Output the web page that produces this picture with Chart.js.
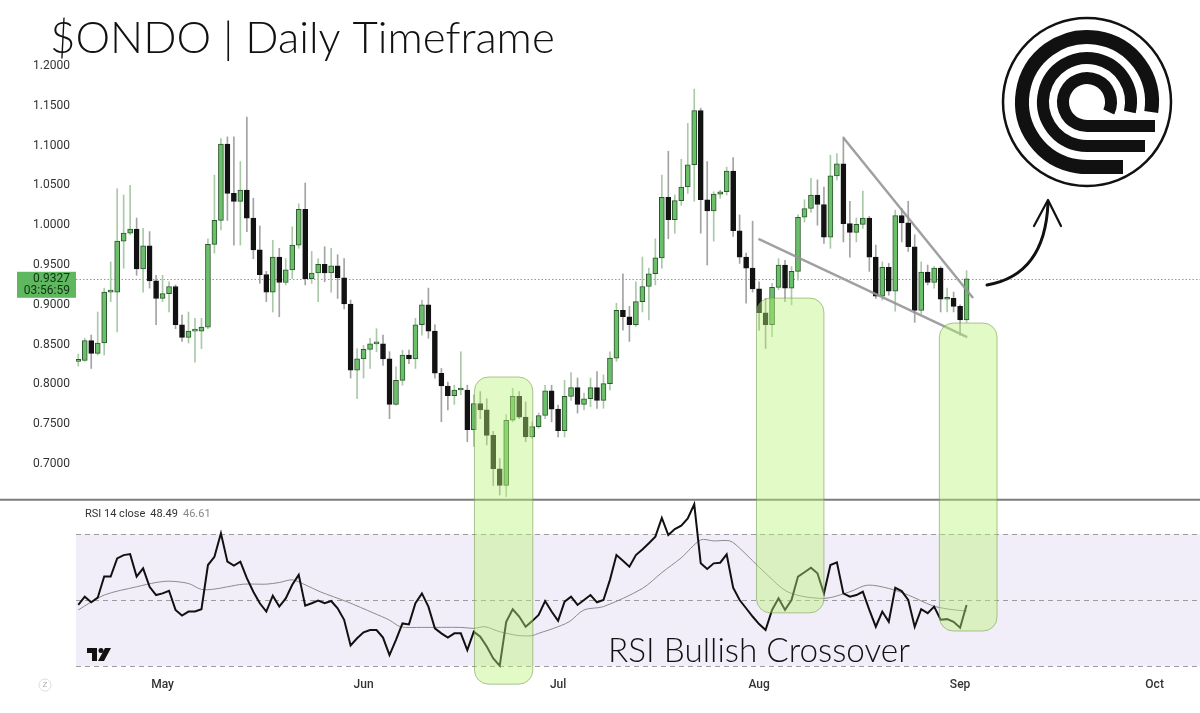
<!DOCTYPE html>
<html>
<head>
<meta charset="utf-8">
<title>$ONDO Daily</title>
<script src="https://cdn.jsdelivr.net/npm/chart.js@4.4.1/dist/chart.umd.min.js"></script>
<style>
  html, body { margin: 0; padding: 0; background: #fff; }
  #wrap { width: 1200px; height: 713px; position: relative; }
</style>
</head>
<body>
<div id="wrap"><canvas id="ondoChart" width="1200" height="713"></canvas></div>
<script>
// daily candles, index 0 = Apr 18, last = Sep 2
const opens = [0.829,0.830,0.855,0.839,0.852,0.916,0.916,0.980,0.990,0.995,
  0.945,0.974,0.930,0.908,0.914,0.923,0.875,0.859,0.867,0.867,
  0.872,0.976,1.006,1.102,1.040,1.030,1.044,1.009,0.969,0.938,
  0.916,0.960,0.928,0.944,0.975,1.020,0.933,0.940,0.951,0.940,
  0.949,0.934,0.901,0.818,0.832,0.844,0.851,0.851,0.832,0.775,
  0.805,0.837,0.832,0.875,0.900,0.867,0.814,0.798,0.786,0.793,
  0.793,0.743,0.776,0.768,0.736,0.694,0.673,0.755,0.785,0.759,
  0.734,0.747,0.761,0.792,0.769,0.742,0.785,0.796,0.775,0.782,
  0.796,0.780,0.801,0.833,0.893,0.885,0.875,0.904,0.923,0.939,
  0.959,1.035,1.007,1.031,1.048,1.076,1.144,1.032,1.018,1.039,
  1.042,1.068,0.993,0.960,0.946,0.920,0.890,0.875,0.922,0.950,
  0.921,0.942,1.010,1.021,1.038,1.026,0.985,1.062,1.077,1.002,
  0.991,1.001,1.009,0.960,0.911,0.947,0.917,1.012,1.003,0.973,
  0.893,0.941,0.928,0.946,0.907,0.908,0.898,0.881];
const highs = [0.838,0.858,0.862,0.891,0.921,0.954,1.046,1.038,1.050,1.009,
  0.996,0.992,0.937,0.937,0.929,0.925,0.887,0.891,0.883,0.883,
  0.983,1.063,1.109,1.111,1.111,1.080,1.136,1.034,0.999,0.942,
  0.981,0.971,0.958,0.998,1.027,1.053,0.967,0.958,0.973,0.971,
  0.963,0.958,0.906,0.845,0.849,0.858,0.870,0.862,0.841,0.822,
  0.843,0.843,0.883,0.906,0.921,0.875,0.820,0.803,0.799,0.841,
  0.799,0.787,0.791,0.782,0.741,0.707,0.762,0.795,0.791,0.778,
  0.753,0.764,0.799,0.799,0.774,0.805,0.815,0.808,0.789,0.808,
  0.816,0.812,0.841,0.902,0.939,0.898,0.929,0.960,0.946,0.983,
  1.063,1.093,1.038,1.083,1.128,1.171,1.147,1.080,1.042,1.044,
  1.073,1.085,1.013,0.965,1.005,0.929,0.908,0.927,0.958,0.956,
  0.948,1.013,1.032,1.059,1.057,1.048,1.088,1.090,1.111,1.030,
  1.009,1.043,1.011,0.975,0.954,0.952,1.019,1.021,1.030,0.988,
  0.954,0.950,0.948,0.948,0.921,0.916,0.900,0.943];
const lows = [0.823,0.829,0.820,0.837,0.837,0.904,0.866,0.946,0.988,0.937,
  0.916,0.921,0.875,0.904,0.891,0.870,0.854,0.852,0.828,0.845,
  0.870,0.965,0.994,1.006,0.975,0.975,0.992,0.958,0.927,0.904,
  0.891,0.885,0.925,0.933,0.971,0.925,0.927,0.904,0.929,0.916,
  0.908,0.895,0.808,0.782,0.808,0.820,0.841,0.824,0.757,0.774,
  0.799,0.826,0.820,0.862,0.858,0.808,0.753,0.768,0.775,0.787,
  0.728,0.722,0.757,0.724,0.673,0.661,0.659,0.753,0.757,0.728,
  0.732,0.745,0.757,0.753,0.734,0.734,0.780,0.764,0.768,0.772,
  0.770,0.770,0.793,0.829,0.868,0.854,0.873,0.891,0.881,0.925,
  0.946,0.983,0.990,1.025,1.040,1.030,0.990,0.950,0.980,1.034,
  1.038,0.986,0.952,0.902,0.916,0.868,0.845,0.860,0.919,0.904,
  0.900,0.931,1.004,1.016,1.000,0.977,0.971,1.057,0.979,0.960,
  0.979,0.996,0.942,0.908,0.906,0.912,0.892,0.979,0.967,0.878,
  0.889,0.925,0.921,0.891,0.891,0.891,0.862,0.878];
const closes = [0.830,0.855,0.839,0.852,0.916,0.917,0.980,0.990,0.995,0.945,
  0.974,0.930,0.908,0.914,0.923,0.875,0.859,0.867,0.867,0.872,
  0.976,1.006,1.102,1.040,1.030,1.044,1.009,0.969,0.938,0.916,
  0.960,0.928,0.944,0.975,1.020,0.933,0.940,0.951,0.940,0.949,
  0.934,0.901,0.818,0.832,0.844,0.851,0.851,0.832,0.775,0.805,
  0.837,0.832,0.875,0.900,0.867,0.814,0.798,0.786,0.793,0.793,
  0.743,0.776,0.768,0.736,0.694,0.673,0.755,0.785,0.759,0.734,
  0.747,0.761,0.792,0.769,0.742,0.785,0.796,0.775,0.782,0.796,
  0.780,0.801,0.833,0.893,0.885,0.875,0.904,0.923,0.939,0.959,
  1.035,1.007,1.031,1.048,1.076,1.144,1.032,1.018,1.039,1.042,
  1.068,0.993,0.960,0.946,0.920,0.890,0.875,0.922,0.950,0.921,
  0.942,1.010,1.021,1.038,1.026,0.985,1.062,1.077,1.002,0.991,
  1.001,1.009,0.960,0.911,0.947,0.917,1.012,1.003,0.973,0.893,
  0.941,0.928,0.946,0.907,0.908,0.898,0.881,0.9327];

// RSI 14 and its moving average (sparse readings)
const rsiVals = [48.5,51.0,49.3,50.7,57.1,57.1,62.6,63.6,63.9,57.1,
  59.6,54.0,51.5,52.0,52.8,47.0,45.3,46.5,46.5,47.2,
  60.6,63.1,70.2,61.6,60.4,61.6,56.6,52.5,49.0,46.5,
  51.3,48.0,50.5,54.6,57.6,48.3,49.0,49.8,49.0,49.7,
  47.5,44.0,36.2,38.4,40.2,40.9,40.9,38.6,33.3,37.9,
  42.9,42.6,49.0,52.0,48.0,41.4,39.9,38.6,39.9,39.9,
  34.8,40.4,38.9,35.9,32.3,30.1,43.4,47.2,45.0,41.9,
  43.6,45.5,49.7,46.5,43.7,49.5,51.0,48.5,50.0,51.5,
  49.3,50.0,56.1,63.6,61.9,60.1,63.6,65.3,67.2,69.2,
  74.9,69.7,71.5,72.5,74.7,79.0,61.1,59.4,61.1,61.3,
  63.8,53.7,50.0,47.5,45.0,42.7,40.9,47.0,50.5,47.0,
  50.0,57.1,58.4,59.8,58.1,52.0,60.6,61.4,52.0,51.0,
  51.5,52.5,47.0,41.9,46.5,43.4,53.7,52.7,50.0,41.9,
  47.2,46.0,48.0,44.0,44.2,43.4,41.6,48.49];
const maIdx = [0,4,9,12,14,17,19,21,23,25.5,29,31,33,35,37.3,41.4,45.6,48,49.7,53,
  59,61,62.7,65,68,70,71,73.3,75.7,78,81,87,90,93,96,98,100.5,102,106,109.6,
  115,119,121.7,125,128,131.7,134,137];
const maVals = [47.0,51.5,54.0,55.3,55.7,55.0,53.2,53.3,54.0,54.8,54.8,55.3,56.1,54.6,52.5,49.5,46.0,43.9,41.9,41.7,
  41.7,41.4,41.9,40.4,39.2,39.2,39.9,41.4,43.4,47.0,48.0,53.5,58.3,62.8,68.2,67.9,67.9,65.7,58.1,52.3,
  50.5,52.5,54.5,53.5,51.5,48.3,47.3,46.61];

// axes
const monthLabels = ['May', 'Jun', 'Jul', 'Aug', 'Sep', 'Oct'];
const monthIdx = [13, 44, 74, 105, 136, 166];
const priceTicks = [0.70, 0.75, 0.80, 0.85, 0.90, 0.95, 1.00, 1.05, 1.10, 1.15, 1.20];
const rsiLevels = [70, 50, 30];

// drawn trendlines (wedge)
const upperLineIdx = [118, 138];
const upperLineVals = [1.110, 0.9085];
const lowerLineIdx = [104.9, 137.1];
const lowerLineVals = [0.9827, 0.8595];

// highlight boxes: start idx, end idx, top price, bottom rsi
const boxStart = [61.1, 104.6, 132.8];
const boxEnd = [70.1, 115.0, 141.7];
const boxTopPrice = [0.8093, 0.9085, 0.8771];
const boxBottomRsi = [24.5, 46.1, 40.6];

const lastPrice = 0.9327;
const panelSplit = 0.655;

const isUp = closes.map((c, i) => c >= opens[i]);

function fitText(ctx, text, x, yBase, width, family) {
  ctx.font = '300 40px ' + family;
  const w = ctx.measureText(text).width;
  ctx.font = '300 ' + (40 * width / w).toFixed(1) + 'px ' + family;
  ctx.fillText(text, x, yBase);
}

const decor = {
  id: 'decor',
  beforeDatasetsDraw(chart) {
    const { ctx, chartArea: a, scales: { x, y, rsi } } = chart;
    ctx.save();
    // rsi band
    const y70 = rsi.getPixelForValue(70), y30 = rsi.getPixelForValue(30);
    ctx.fillStyle = 'rgba(126,87,194,0.1)';
    ctx.fillRect(a.left, y70, a.right - a.left, y30 - y70);
    ctx.strokeStyle = '#9c9c9c';
    ctx.lineWidth = 1;
    ctx.setLineDash([5, 4]);
    rsiLevels.forEach(lv => {
      const yy = Math.round(rsi.getPixelForValue(lv)) + 0.5;
      ctx.beginPath(); ctx.moveTo(a.left, yy); ctx.lineTo(a.right, yy); ctx.stroke();
    });
    // panel separator
    ctx.setLineDash([]);
    ctx.strokeStyle = '#7d7d7d';
    ctx.lineWidth = 2;
    const ySep = y.getPixelForValue(panelSplit);
    ctx.beginPath(); ctx.moveTo(0, ySep); ctx.lineTo(chart.width, ySep); ctx.stroke();
    // last price dotted line
    const yp = Math.round(y.getPixelForValue(lastPrice)) + 0.5;
    ctx.strokeStyle = '#6db86d';
    ctx.lineWidth = 1;
    ctx.setLineDash([1.5, 2]);
    ctx.beginPath(); ctx.moveTo(a.left, yp); ctx.lineTo(a.right, yp); ctx.stroke();
    ctx.restore();
  },
  afterDatasetsDraw(chart) {
    const { ctx, chartArea: a, scales: { x, y, rsi } } = chart;
    ctx.save();
    // green highlight boxes
    boxStart.forEach((b, i) => {
      const x0 = x.getPixelForValue(b), x1 = x.getPixelForValue(boxEnd[i]);
      const y0 = y.getPixelForValue(boxTopPrice[i]), y1 = rsi.getPixelForValue(boxBottomRsi[i]);
      ctx.beginPath();
      ctx.roundRect(x0, y0, x1 - x0, y1 - y0, 14);
      ctx.fillStyle = 'rgba(187,242,117,0.42)';
      ctx.fill();
      ctx.strokeStyle = 'rgba(110,150,80,0.55)';
      ctx.lineWidth = 1;
      ctx.stroke();
    });

    // last price label
    const yp = y.getPixelForValue(lastPrice);
    ctx.fillStyle = '#5fb760';
    ctx.fillRect(17, yp - 7, a.left - 17, 26);
    ctx.fillStyle = '#123312';
    ctx.font = '12px Roboto';
    ctx.textAlign = 'right';
    ctx.textBaseline = 'middle';
    ctx.fillText(lastPrice.toFixed(4), a.left - 6, yp);
    ctx.fillText('03:56:59', a.left - 6, yp + 12);

    // rsi legend
    const ySep = y.getPixelForValue(panelSplit);
    ctx.textAlign = 'left';
    ctx.font = '11px Roboto';
    let lx = a.left + 9;
    const ly = ySep + 14;
    [['RSI 14 close', '#333'], [rsiVals[rsiVals.length - 1].toFixed(2), '#333'], [maVals[maVals.length - 1].toFixed(2), '#888']].forEach(([t, c]) => {
      ctx.fillStyle = c;
      ctx.fillText(t, lx, ly);
      lx += ctx.measureText(t).width + 5;
    });

    // tradingview mark
    const ty = rsi.getPixelForValue(30) - 18;
    ctx.fillStyle = '#111';
    ctx.fillRect(a.left + 11, ty, 10, 5);
    ctx.fillRect(a.left + 16, ty, 5, 13);
    ctx.beginPath(); ctx.arc(a.left + 25, ty + 2.5, 2.5, 0, Math.PI * 2); ctx.fill();
    ctx.beginPath();
    ctx.moveTo(a.left + 29, ty); ctx.lineTo(a.left + 35, ty);
    ctx.lineTo(a.left + 28, ty + 13); ctx.lineTo(a.left + 22, ty + 13);
    ctx.closePath(); ctx.fill();

    // small Z badge
    ctx.strokeStyle = '#ddd';
    ctx.lineWidth = 1;
    ctx.beginPath(); ctx.arc(45, 685, 6, 0, Math.PI * 2); ctx.stroke();
    ctx.fillStyle = '#aaa';
    ctx.font = '8px Roboto';
    ctx.textAlign = 'center';
    ctx.fillText('Z', 45, 685);

    // handwritten notes
    ctx.textAlign = 'left';
    ctx.textBaseline = 'alphabetic';
    ctx.fillStyle = '#111';
    fitText(ctx, '$ONDO | Daily Timeframe', 50, 53, 505, 'Lato, "Open Sans", sans-serif');
    fitText(ctx, 'RSI Bullish Crossover', 608, 662, 302, 'Lato, "Open Sans", sans-serif');

    // ondo logo
    const cx = 1087, cy = 102;
    ctx.strokeStyle = '#111';
    ctx.lineWidth = 2.5;
    ctx.beginPath(); ctx.arc(cx, cy, 84, 0, Math.PI * 2); ctx.stroke();
    [[24, 12, 1155], [44, 12, 1145], [65, 14, 1123]].forEach(([rad, w, xEnd]) => {
      ctx.lineWidth = w;
      ctx.lineCap = 'butt';
      ctx.beginPath();
      ctx.arc(cx, cy, rad, Math.asin(10 / rad), Math.PI / 2, true);
      ctx.lineTo(xEnd, cy + rad);
      ctx.stroke();
    });

    // arrow
    ctx.lineWidth = 3;
    ctx.lineCap = 'round';
    ctx.lineJoin = 'round';
    ctx.beginPath(); ctx.moveTo(987, 285); ctx.quadraticCurveTo(1045, 275, 1048, 203); ctx.stroke();
    ctx.lineWidth = 2.2;
    ctx.beginPath(); ctx.moveTo(1034, 226); ctx.lineTo(1048, 200); ctx.lineTo(1061, 226); ctx.stroke();
    ctx.restore();
  }
};

const ctx = document.getElementById('ondoChart').getContext('2d');
new Chart(ctx, {
  type: 'bar',
  data: {
    datasets: [
      {
        label: 'upper',
        type: 'line',
        yAxisID: 'y',
        data: upperLineIdx.map((v, i) => ({ x: v, y: upperLineVals[i] })),
        borderColor: 'rgba(150,150,150,0.9)',
        borderWidth: 2.5,
        pointRadius: 0,
        order: 0
      },
      {
        label: 'lower',
        type: 'line',
        yAxisID: 'y',
        data: lowerLineIdx.map((v, i) => ({ x: v, y: lowerLineVals[i] })),
        borderColor: 'rgba(150,150,150,0.9)',
        borderWidth: 2.5,
        pointRadius: 0,
        order: 0
      },
      {
        label: 'RSI',
        type: 'line',
        yAxisID: 'rsi',
        data: rsiVals.map((v, i) => ({ x: i, y: v })),
        borderColor: '#111',
        borderWidth: 2,
        pointRadius: 0,
        tension: 0,
        order: 0
      },
      {
        label: 'RSI MA',
        type: 'line',
        yAxisID: 'rsi',
        data: maIdx.map((v, i) => ({ x: v, y: maVals[i] })),
        borderColor: '#8a8a8a',
        borderWidth: 1,
        pointRadius: 0,
        tension: 0.3,
        order: 1
      },
      {
        label: 'body',
        yAxisID: 'y',
        data: closes.map((c, i) => ({ x: i, y: [opens[i], c] })),
        backgroundColor: isUp.map(u => u ? '#6abf6a' : '#121212'),
        borderColor: isUp.map(u => u ? '#2e552e' : '#121212'),
        borderWidth: 1,
        borderSkipped: false,
        barThickness: 5,
        minBarLength: 2,
        grouped: false,
        order: 2
      },
      {
        label: 'wick',
        yAxisID: 'y',
        data: closes.map((c, i) => ({ x: i, y: [lows[i], highs[i]] })),
        backgroundColor: isUp.map(u => u ? '#a9c9a9' : '#a3a3a3'),
        barThickness: 1,
        grouped: false,
        order: 3
      }
    ]
  },
  options: {
    responsive: false,
    animation: false,
    layout: { padding: { top: 40, left: 0, right: 0, bottom: 0 } },
    plugins: { legend: { display: false }, tooltip: { enabled: false } },
    scales: {
      x: {
        type: 'linear',
        min: -0.35,
        max: 173,
        offset: false,
        grid: { display: false, drawTicks: false },
        border: { display: false },
        ticks: {
          autoSkip: false,
          maxRotation: 0,
          padding: 6,
          color: '#333',
          font: { family: 'Roboto', size: 12, weight: '500' },
          callback: v => monthLabels[monthIdx.indexOf(v)] || ''
        },
        afterBuildTicks: s => { s.ticks = monthIdx.map(v => ({ value: v })); },
        afterFit: s => { s.height = 41; }
      },
      y: {
        type: 'linear',
        position: 'left',
        min: 0.4387,
        max: 1.2327,
        beginAtZero: false,
        grid: { display: false, drawTicks: false },
        border: { display: false },
        ticks: {
          padding: 6,
          color: '#333',
          font: { family: 'Roboto', size: 12 },
          callback: v => Number(v).toFixed(4)
        },
        afterBuildTicks: s => { s.ticks = priceTicks.map(v => ({ value: v })); },
        afterFit: s => { s.width = 76; }
      },
      rsi: {
        type: 'linear',
        axis: 'y',
        position: 'left',
        display: false,
        min: 28.18,
        max: 219.7
      }
    }
  },
  plugins: [decor]
});
</script>
</body>
</html>
